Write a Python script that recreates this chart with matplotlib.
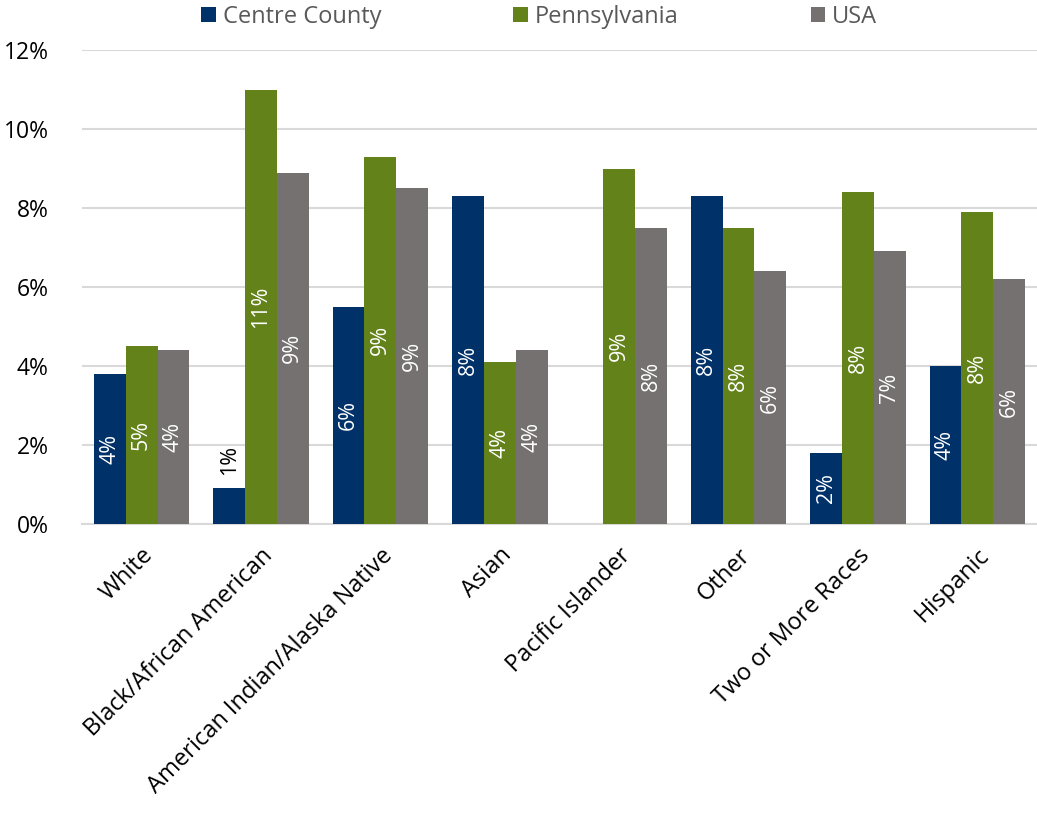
import math
import numpy as np
import matplotlib
matplotlib.use('Agg')
import matplotlib.pyplot as plt
from matplotlib.ticker import FuncFormatter

categories = ['White', 'Black/African American', 'American Indian/Alaska Native',
              'Asian', 'Pacific Islander', 'Other', 'Two or More Races', 'Hispanic']
centre = [3.8, 0.9, 5.5, 8.3, 0.0, 8.3, 1.8, 4.0]
penn = [4.5, 11.0, 9.3, 4.1, 9.0, 7.5, 8.4, 7.9]
usa = [4.4, 8.9, 8.5, 4.4, 7.5, 6.4, 6.9, 6.2]
series_names = ['Centre County', 'Pennsylvania', 'USA']
colors = ['#003169', '#638219', '#767171']

plt.rcParams['font.family'] = ['Open Sans', 'DejaVu Sans']

fig = plt.figure(figsize=(10.37, 8.35), dpi=100)
ax = fig.add_axes([0.079, 0.3725, 0.921, 0.5675])

x = np.arange(len(categories))
w = 0.8 / 3
for i, (vals, name, col) in enumerate(zip([centre, penn, usa], series_names, colors)):
    pos = x + (i - 1) * w
    ax.bar(pos, vals, width=w, color=col, label=name, zorder=3)
    for xp, v in zip(pos, vals):
        if v <= 0:
            continue
        lab = f"{math.floor(v + 0.5)}%"
        if v < 1.5:
            ax.annotate(lab, (xp, v), xytext=(0, 10), textcoords='offset points',
                        rotation=90, ha='center', va='bottom', color='black', fontsize=15.5)
        else:
            ax.text(xp, v / 2, lab, rotation=90, ha='center', va='center',
                    color='white', fontsize=15.5)

ax.set_xlim(-0.5, len(categories) - 0.5)
ax.set_ylim(0, 12)
ax.set_yticks(np.arange(0, 13, 2))
ax.yaxis.set_major_formatter(FuncFormatter(lambda v, p: f"{v:.0f}%"))
ax.grid(axis='y', color='#d9d9d9', linewidth=1.5, zorder=0)
ax.set_axisbelow(True)
for s in ['top', 'right', 'left']:
    ax.spines[s].set_visible(False)
ax.spines['bottom'].set_color('#d9d9d9')
ax.spines['bottom'].set_linewidth(1.5)
ax.tick_params(axis='both', length=0, labelsize=17, colors='#404040', labelcolor='black')
ax.tick_params(axis='y', pad=24, labelsize=16.5)
ax.set_xticks(x)
ax.set_xticklabels(categories, rotation=45, ha='right', rotation_mode='anchor')
ax.tick_params(axis='x', pad=14)

fig.legend(loc='upper center', bbox_to_anchor=(0.52, 1.02), ncol=3, frameon=False,
           fontsize=17, handlelength=0.6, handleheight=0.6, handletextpad=0.3,
           columnspacing=5.6, labelcolor='#595959')

fig.savefig('out.png', dpi=100)
